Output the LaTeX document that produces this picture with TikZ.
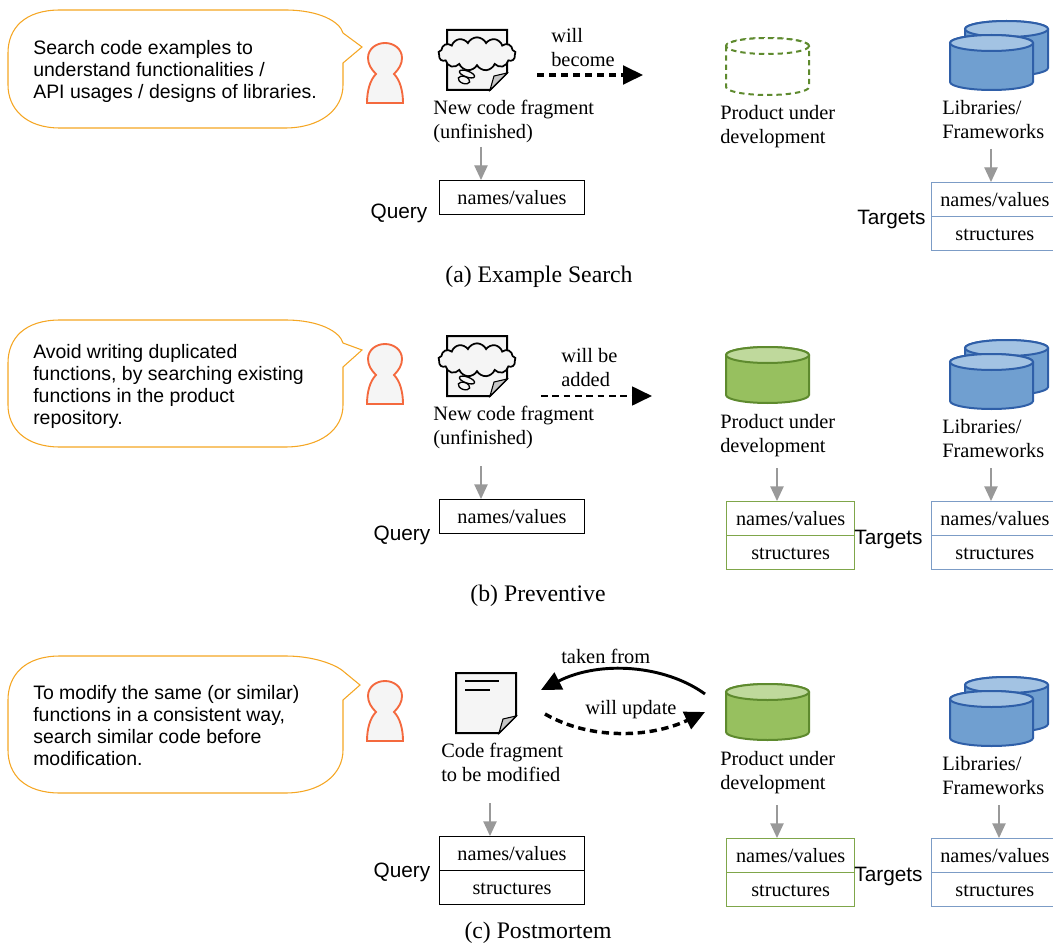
\documentclass[tikz,border=0pt]{standalone}
\usepackage{fontspec}
\setmainfont{Liberation Serif}
\setsansfont{Liberation Sans}
\usetikzlibrary{arrows.meta,shapes.symbols,calc}
\definecolor{bubbleC}{HTML}{F5A623}
\definecolor{personC}{HTML}{F4693E}
\definecolor{paperC}{HTML}{F5F5F5}
\definecolor{greenC}{HTML}{5E8A2E}
\definecolor{greenF}{HTML}{97C05F}
\definecolor{greenT}{HTML}{BFD99C}
\definecolor{blueC}{HTML}{2F5FA8}
\definecolor{blueF}{HTML}{709FD0}
\definecolor{blueT}{HTML}{A3C3E3}
\definecolor{tboxC}{HTML}{7C9CC6}
\definecolor{gboxC}{HTML}{7FA64A}
\definecolor{arrC}{HTML}{999999}
\tikzset{
 x=0.75pt,y=-0.75pt,
 sertext/.style={font=\fontsize{15.3}{18}\selectfont,inner sep=0pt,align=left,anchor=north west},
 sanstext/.style={font=\sffamily\fontsize{14.6}{16.5}\selectfont,inner sep=0pt,align=left,anchor=north west},
 sidelabel/.style={font=\sffamily\fontsize{15.6}{18}\selectfont,inner sep=0pt},
 captiontext/.style={font=\fontsize{17.8}{20}\selectfont,inner sep=0pt},
 speech/.style={draw=bubbleC,line width=0.8pt,fill=white},
 figure person/.style={draw=personC,line width=1.4pt,fill=paperC},
 paper/.style={draw=black,line width=1.5pt,fill=paperC,line join=miter},
 cellbox/.style={draw=#1,line width=0.8pt,fill=white,font=\fontsize{15.2}{18}\selectfont,inner sep=0pt,anchor=north west,text height=11.5pt,text depth=1.5pt},
 grayarrow/.style={draw=arrC,line width=1pt,-{Triangle[length=11pt,width=10pt,fill=arrC]}},
 bigarrow/.style={line width=#1,-{Triangle[length=15pt,width=14pt,fill=black]}},
}
\newcommand{\personfig}[3]{\begin{scope}[shift={(#1,#2)}]
 \draw[figure person] (9,31) .. controls (4,26) and (1,21) .. (1,15) .. controls (1,6) and (9,0) .. (18,0) .. controls (27,0) and (35,6) .. (35,15) .. controls (35,21) and (32,26) .. (27,31) .. controls (33,37) and (36,48) .. (36,60) -- (0,60) .. controls (0,48) and (3,37) .. (9,31) -- cycle;
\end{scope}}
\newcommand{\docfig}[2]{\begin{scope}[shift={(#1,#2)}]
 \draw[paper] (0,0) -- (60,0) -- (60,43) -- (43,60) -- (0,60) -- cycle;
 \draw[draw=black,line width=0.8pt,fill=gray!45] (60,43) -- (47,46) -- (43,60) -- cycle;
\end{scope}}
\newcommand{\cloudfig}[3]{\begin{scope}[shift={(#1,#2)}]
 \node[cloud,draw=black,line width=1.3pt,fill=paperC,cloud puffs=13,cloud puff arc=130,aspect=2.3,minimum width=58pt,minimum height=25pt,inner sep=0pt] (#3) at (39,17) {};
 \draw[line width=1pt,fill=paperC,rotate around={-20:(29,37)}] (29,37) ellipse (8 and 3);
 \draw[line width=1pt,fill=paperC,rotate around={-20:(26,43)}] (26,43) ellipse (6 and 3.5);
\end{scope}}
\newcommand{\cylfig}[7]{\begin{scope}[shift={(#1,#2)}]
 \draw[draw=#4,fill=#5,line width=1.5pt,#7] (0,8) -- (0,#3) arc[start angle=180,end angle=0,x radius=41.5,y radius=8] -- (83,8) arc[start angle=0,end angle=-180,x radius=41.5,y radius=8] -- cycle;
 \draw[draw=#4,fill=#6,line width=1.5pt,#7] (41.5,8) ellipse (41.5 and 8);
\end{scope}}
\newcommand{\libfig}[2]{%
 \cylfig{#1+15}{#2-14}{47}{blueC}{blueF}{blueT}{}
 \cylfig{#1}{#2}{47}{blueC}{blueF}{blueT}{}}
\begin{document}
\begin{tikzpicture}
\useasboundingbox (0,0) rectangle (1053,945);
\clip (0,0) rectangle (1053,945);

%% ---------- (a)
\draw[speech] (60,10) -- (285,10) .. controls (320,10) and (340,22) .. (343,33) -- (362,47) -- (343,63) -- (343,85) .. controls (343,110) and (320,128) .. (285,128) -- (60,128) .. controls (25,128) and (8,108) .. (8,85) -- (8,53) .. controls (8,28) and (25,10) .. (60,10) -- cycle;
\node[sanstext] (ta) at (33,40) {Search code examples to\\understand functionalities /\\API usages / designs of libraries.};
\personfig{367}{43}{}
\docfig{447}{30}
\cloudfig{438}{37}{ca}
\node[sertext] (da) at (433,100) {New code fragment\\(unfinished)};
\node[sertext] (wa) at (551,28) {will\\become};
\coordinate (a1) at (537,75);
\coordinate (a2) at (643,75);
\draw[bigarrow=2.6pt,dashed,dash pattern=on 5.5pt off 3.5pt] (a1) -- (a2);
\cylfig{726}{38}{49}{greenC}{white}{white}{dashed,dash pattern=on 4pt off 3pt}
\node[sertext] (pa) at (720,105) {Product under\\development};
\libfig{950}{35}
\node[sertext] (la) at (942,100) {Libraries/\\Frameworks};
\node[cellbox=black,minimum width=108.7pt,minimum height=25.5pt] (qa) at (439,180) {names/values};
\node[sidelabel] (qla) at (399,213) {Query};
\coordinate (a3) at (481,147);
\draw[grayarrow] (a3) -- (a3 |- qa.north);
\node[cellbox=tboxC,minimum width=105pt,minimum height=25.5pt] (tb1) at (931,182) {\hspace*{-10pt}names/values};
\node[cellbox=tboxC,minimum width=105pt,minimum height=25.5pt] (tb2) at (931,216) {\hspace*{-10pt}structures};
\node[sidelabel] (tla) at (891.5,220) {Targets};
\coordinate (a4) at (991,149);
\draw[grayarrow] (a4) -- (a4 |- tb1.north);
\node[captiontext] (capa) at (539,277) {(a) Example Search};

%% ---------- (b)
\draw[speech] (60,320) -- (285,320) .. controls (320,320) and (340,332) .. (343,343) -- (362,350) -- (343,367) -- (343,405) .. controls (343,430) and (320,447) .. (285,447) -- (60,447) .. controls (25,447) and (8,428) .. (8,405) -- (8,363) .. controls (8,338) and (25,320) .. (60,320) -- cycle;
\node[sanstext] (tb) at (33,344) {Avoid writing duplicated\\functions, by searching existing\\functions in the product\\repository.};
\personfig{367}{344}{}
\docfig{447}{336}
\cloudfig{438}{343}{cb}
\node[sertext] (db) at (433,406) {New code fragment\\(unfinished)};
\node[sertext] (wb) at (561,348) {will be\\added};
\coordinate (b1) at (541,396);
\coordinate (b2) at (652,396);
\draw[bigarrow=2.1pt,dashed,dash pattern=on 5pt off 3.5pt] (b1) -- (b2);
\cylfig{726}{347}{48}{greenC}{greenF}{greenT}{}
\node[sertext] (pb) at (720,414) {Product under\\development};
\libfig{950}{354}
\node[sertext] (lb) at (942,419) {Libraries/\\Frameworks};
\node[cellbox=black,minimum width=108.7pt,minimum height=25.5pt] (qb) at (439,499) {names/values};
\node[sidelabel] (qlb) at (402,535) {Query};
\coordinate (b3) at (481,466);
\draw[grayarrow] (b3) -- (b3 |- qb.north);
\node[cellbox=gboxC,minimum width=96.2pt,minimum height=25.5pt] (pb1) at (726,501) {names/values};
\node[cellbox=gboxC,minimum width=96.2pt,minimum height=25.5pt] (pb2) at (726,535) {structures};
\coordinate (b5) at (777,468);
\draw[grayarrow] (b5) -- (b5 |- pb1.north);
\node[sidelabel] (tlb) at (888.5,539) {Targets};
\node[cellbox=tboxC,minimum width=105pt,minimum height=25.5pt] (tc1) at (931,501) {\hspace*{-10pt}names/values};
\node[cellbox=tboxC,minimum width=105pt,minimum height=25.5pt] (tc2) at (931,535) {\hspace*{-10pt}structures};
\coordinate (b4) at (991,468);
\draw[grayarrow] (b4) -- (b4 |- tc1.north);
\node[captiontext] (capb) at (538,596) {(b) Preventive};

%% ---------- (c)
\draw[speech] (60,656) -- (285,656) .. controls (320,656) and (340,668) .. (343,671) -- (360,685) -- (343,700) -- (343,750) .. controls (343,775) and (320,793) .. (285,793) -- (60,793) .. controls (25,793) and (8,775) .. (8,750) -- (8,700) .. controls (8,675) and (25,656) .. (60,656) -- cycle;
\node[sanstext] (tc) at (33,685) {To modify the same (or similar)\\functions in a consistent way,\\search similar code before\\modification.};
\personfig{367}{681}{}
\docfig{456}{673}
\draw[line width=1pt] (465,681) -- (499,681) (465,690) -- (490,690);
\node[sertext] (dc) at (441,743) {Code fragment\\to be modified};
\coordinate (c1) at (705,694);
\coordinate (c2) at (541,690);
\coordinate (c3) at (545,714);
\coordinate (c4) at (705,712);
\draw[bigarrow=2.2pt] (c1) .. controls (665,665) and (600,660) .. (c2);
\draw[bigarrow=2.6pt,dashed,dash pattern=on 5.5pt off 3.5pt] (c3) .. controls (590,740) and (650,738) .. (c4);
\node[sertext] (fc) at (561,649) {taken from};
\node[sertext] (uc) at (585,700) {will update};
\cylfig{726}{684}{48}{greenC}{greenF}{greenT}{}
\node[sertext] (pc) at (720,751) {Product under\\development};
\libfig{950}{691}
\node[sertext] (lc) at (942,756) {Libraries/\\Frameworks};
\node[cellbox=black,minimum width=108.7pt,minimum height=25.5pt] (qc1) at (439,836) {names/values};
\node[cellbox=black,minimum width=108.7pt,minimum height=25.5pt] (qc2) at (439,870) {structures};
\node[sidelabel] (qlc) at (402,872) {Query};
\coordinate (c5) at (490,803);
\draw[grayarrow] (c5) -- (c5 |- qc1.north);
\node[cellbox=gboxC,minimum width=96.2pt,minimum height=25.5pt] (pc1) at (726,838) {names/values};
\node[cellbox=gboxC,minimum width=96.2pt,minimum height=25.5pt] (pc2) at (726,872) {structures};
\coordinate (c6) at (777,805);
\draw[grayarrow] (c6) -- (c6 |- pc1.north);
\node[sidelabel] (tlc) at (888.5,876) {Targets};
\node[cellbox=tboxC,minimum width=105pt,minimum height=25.5pt] (td1) at (931,838) {\hspace*{-10pt}names/values};
\node[cellbox=tboxC,minimum width=105pt,minimum height=25.5pt] (td2) at (931,872) {\hspace*{-10pt}structures};
\coordinate (c7) at (999,805);
\draw[grayarrow] (c7) -- (c7 |- td1.north);
\node[captiontext] (capc) at (538,933) {(c) Postmortem};
\end{tikzpicture}
\end{document}
